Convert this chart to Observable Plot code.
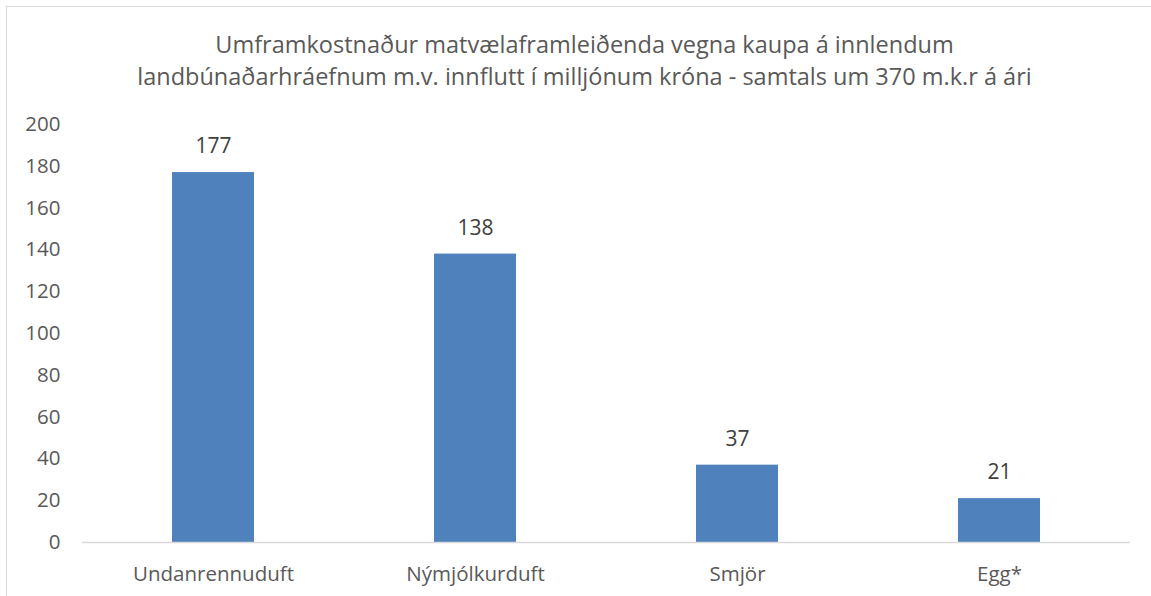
<!DOCTYPE html>
<html>
<head>
<meta charset="utf-8">
<script src="https://cdn.jsdelivr.net/npm/d3@7"></script>
<script src="https://cdn.jsdelivr.net/npm/@observablehq/plot@0.6"></script>
<style>
  html, body { margin: 0; padding: 0; background: #fff; overflow: hidden; }
  #wrap { position: relative; width: 1151px; height: 596px; font-family: "Open Sans", "Liberation Sans", sans-serif; }
  #frame { position: absolute; left: 6px; top: 6px; width: 1200px; height: 700px; border: 1.5px solid #d9d9d9; box-sizing: border-box; }
  #title { position: absolute; left: 9px; top: 28px; width: 1151px; text-align: center; font-size: 23.5px; line-height: 32px; color: #595959; }
  #chart { position: absolute; left: 0; top: 0; }
</style>
</head>
<body>
<div id="wrap">
  <div id="frame"></div>
  <div id="chart"></div>
  <div id="title">Umframkostnaður matvælaframleiðenda vegna kaupa á innlendum<br>landbúnaðarhráefnum m.v. innflutt í milljónum króna - samtals um 370 m.k.r á ári</div>
</div>
<script>
const categories = ["Undanrennuduft", "Nýmjólkurduft", "Smjör", "Egg*"];
const values = [177, 138, 37, 21];
const yTicks = [0, 20, 40, 60, 80, 100, 120, 140, 160, 180, 200];

const data = categories.map((c, i) => ({category: c, value: values[i]}));

const chart = Plot.plot({
  width: 1151,
  height: 596,
  marginTop: 124,
  marginBottom: 54,
  marginLeft: 82,
  marginRight: 21,
  style: {fontFamily: "'Open Sans', 'Liberation Sans', sans-serif", fontSize: "20.5px", color: "#595959", background: "transparent"},
  x: {domain: categories, paddingInner: 0.687, paddingOuter: 0.3435, label: null, tickSize: 0, tickPadding: 24},
  y: {domain: [0, 200], ticks: yTicks, label: null, tickSize: 0, tickPadding: 22},
  marks: [
    Plot.barY(data, {x: "category", y: "value", fill: "#4f81bd"}),
    Plot.ruleY([0], {stroke: "#d9d9d9", strokeWidth: 1.5}),
    Plot.text(data, {x: "category", y: "value", text: d => String(d.value), dy: -26, fill: "#404040", fontSize: 21})
  ]
});
document.getElementById("chart").appendChild(chart);
</script>
</body>
</html>
